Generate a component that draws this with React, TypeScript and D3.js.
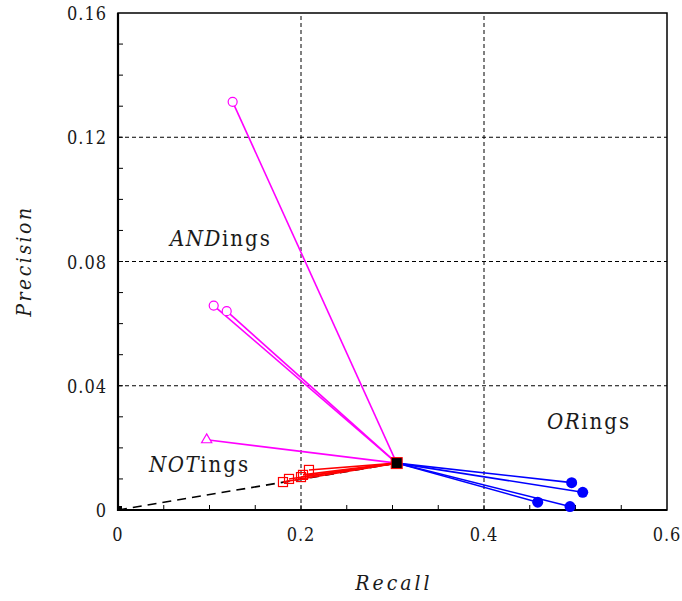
import { useEffect, useRef } from "react";
import * as d3 from "d3";

// hub point every ring is drawn from
const CENTER = { r: 0.3046, p: 0.0151 };

const andPoints = [
  { r: 0.1253, p: 0.1314 },
  { r: 0.1046, p: 0.0658 },
  { r: 0.1188, p: 0.064 },
];
const notTriangle = [{ r: 0.0969, p: 0.0226 }];
const notSquares = [
  { r: 0.1803, p: 0.009 },
  { r: 0.1869, p: 0.01 },
  { r: 0.2, p: 0.0106 },
  { r: 0.2022, p: 0.0113 },
  { r: 0.2087, p: 0.0129 },
];
const orPoints = [
  { r: 0.4958, p: 0.0088 },
  { r: 0.5079, p: 0.0057 },
  { r: 0.4587, p: 0.0025 },
  { r: 0.494, p: 0.0011 },
];

const xTicks = [0, 0.2, 0.4, 0.6];
const yTicks = [0, 0.04, 0.08, 0.12, 0.16];

const W = 682;
const H = 601;
const SERIF = '"DejaVu Serif Condensed", "DejaVu Serif", serif';

export default function App() {
  const ref = useRef<SVGSVGElement>(null);

  useEffect(() => {
    const svg = d3.select(ref.current);
    svg.selectAll("*").remove();

    const x = d3.scaleLinear().domain([0, 0.6]).range([118, 667]);
    const y = d3.scaleLinear().domain([0, 0.16]).range([510, 13]);

    const g = svg
      .append("g")
      .style("font-family", SERIF)
      .style("font-stretch", "condensed")
      .attr("fill", "#1a1a1a");

    // dashed grid
    g.selectAll(".gx")
      .data([0.2, 0.4])
      .join("line")
      .attr("x1", (d) => x(d))
      .attr("x2", (d) => x(d))
      .attr("y1", y(0))
      .attr("y2", y(0.16))
      .attr("stroke", "#000")
      .attr("stroke-width", 1)
      .attr("stroke-dasharray", "4,3");
    g.selectAll(".gy")
      .data([0.04, 0.08, 0.12])
      .join("line")
      .attr("x1", x(0))
      .attr("x2", x(0.6))
      .attr("y1", (d) => y(d))
      .attr("y2", (d) => y(d))
      .attr("stroke", "#000")
      .attr("stroke-width", 1)
      .attr("stroke-dasharray", "4,3");

    // inward minor ticks
    const xMinor = d3.range(0.05, 0.6, 0.05);
    const yMinor = d3.range(0.01, 0.16, 0.01);
    g.selectAll(".tx")
      .data(xMinor)
      .join("line")
      .attr("x1", (d) => x(d))
      .attr("x2", (d) => x(d))
      .attr("y1", y(0))
      .attr("y2", y(0) - 5)
      .attr("stroke", "#000");
    g.selectAll(".ty")
      .data(yMinor)
      .join("line")
      .attr("x1", x(0))
      .attr("x2", x(0) + 5)
      .attr("y1", (d) => y(d))
      .attr("y2", (d) => y(d))
      .attr("stroke", "#000");

    // frame
    g.append("rect")
      .attr("x", x(0))
      .attr("y", y(0.16))
      .attr("width", x(0.6) - x(0))
      .attr("height", y(0) - y(0.16))
      .attr("fill", "none")
      .attr("stroke", "#000")
      .attr("stroke-width", 1.5);
    g.append("path")
      .attr("d", `M${x(0)},${y(0.16)}V${y(0)}H${x(0.6)}`)
      .attr("fill", "none")
      .attr("stroke", "#000")
      .attr("stroke-width", 2.2);

    // tick labels
    g.selectAll(".lx")
      .data(xTicks)
      .join("text")
      .attr("x", (d) => x(d))
      .attr("y", 541)
      .attr("text-anchor", "middle")
      .attr("font-size", 18)
      .attr("letter-spacing", 1)
      .text((d) => (d === 0 ? "0" : String(d)));
    g.selectAll(".ly")
      .data(yTicks)
      .join("text")
      .attr("x", 107)
      .attr("y", (d) => y(d) + 7)
      .attr("text-anchor", "end")
      .attr("font-size", 18)
      .attr("letter-spacing", 1)
      .text((d) => (d === 0 ? "0" : String(d)));

    // axis titles
    g.append("text")
      .attr("x", 394)
      .attr("y", 590)
      .attr("text-anchor", "middle")
      .attr("font-style", "italic")
      .attr("font-size", 21)
      .attr("letter-spacing", 3)
      .text("Recall");
    g.append("text")
      .attr("transform", `translate(31,261) rotate(-90)`)
      .attr("text-anchor", "middle")
      .attr("font-style", "italic")
      .attr("font-size", 21)
      .attr("letter-spacing", 2.5)
      .text("Precision");

    const spoke = (pts: { r: number; p: number }[], color: string) =>
      g.append("g")
        .selectAll("line")
        .data(pts)
        .join("line")
        .attr("x1", x(CENTER.r))
        .attr("y1", y(CENTER.p))
        .attr("x2", (d) => x(d.r))
        .attr("y2", (d) => y(d.p))
        .attr("stroke", color)
        .attr("stroke-width", 1.6);

    // dashed line from origin to hub
    g.append("line")
      .attr("x1", x(0))
      .attr("y1", y(0))
      .attr("x2", x(CENTER.r))
      .attr("y2", y(CENTER.p))
      .attr("stroke", "#000")
      .attr("stroke-width", 1.6)
      .attr("stroke-dasharray", "9,6");

    spoke(andPoints, "#ff00ff");
    spoke(notTriangle, "#ff00ff");
    spoke(notSquares, "#ff0000");
    spoke(orPoints, "#0000ff");

    g.append("g")
      .selectAll("circle")
      .data(andPoints)
      .join("circle")
      .attr("cx", (d) => x(d.r))
      .attr("cy", (d) => y(d.p))
      .attr("r", 4.5)
      .attr("fill", "#fff")
      .attr("stroke", "#ff00ff")
      .attr("stroke-width", 1.2);

    const tri = d3.symbol().type(d3.symbolTriangle).size(45);
    g.append("g")
      .selectAll("path")
      .data(notTriangle)
      .join("path")
      .attr("transform", (d) => `translate(${x(d.r)},${y(d.p)})`)
      .attr("d", tri())
      .attr("fill", "#fff")
      .attr("stroke", "#ff00ff")
      .attr("stroke-width", 1.2);

    g.append("g")
      .selectAll("rect")
      .data(notSquares)
      .join("rect")
      .attr("x", (d) => x(d.r) - 4.5)
      .attr("y", (d) => y(d.p) - 4.5)
      .attr("width", 9)
      .attr("height", 9)
      .attr("fill", "none")
      .attr("stroke", "#ff0000")
      .attr("stroke-width", 1.2);

    g.append("g")
      .selectAll("circle")
      .data(orPoints)
      .join("circle")
      .attr("cx", (d) => x(d.r))
      .attr("cy", (d) => y(d.p))
      .attr("r", 5.5)
      .attr("fill", "#0000ff");

    // hub and origin markers
    g.append("rect")
      .attr("x", x(CENTER.r) - 5.5)
      .attr("y", y(CENTER.p) - 5.5)
      .attr("width", 11)
      .attr("height", 11)
      .attr("fill", "#000")
      .attr("stroke", "#ff0000")
      .attr("stroke-width", 1);
    g.append("rect")
      .attr("x", x(0))
      .attr("y", y(0) - 4)
      .attr("width", 4)
      .attr("height", 4)
      .attr("fill", "#000");

    // group labels: italic operator + roman "ings"
    const label = (op: string, px: number, py: number) => {
      const t = g.append("text")
        .attr("x", px)
        .attr("y", py)
        .attr("font-size", 22);
      t.append("tspan").attr("font-style", "italic").attr("letter-spacing", 1.5).text(op);
      t.append("tspan").attr("letter-spacing", 2).text("ings");
    };
    label("AND", 170, 246);
    label("OR", 547, 429);
    label("NOT", 149, 472);
  }, []);

  return (
    <svg
      ref={ref}
      width={W}
      height={H}
      style={{ position: "absolute", left: 0, top: 0, background: "#fff" }}
    />
  );
}
